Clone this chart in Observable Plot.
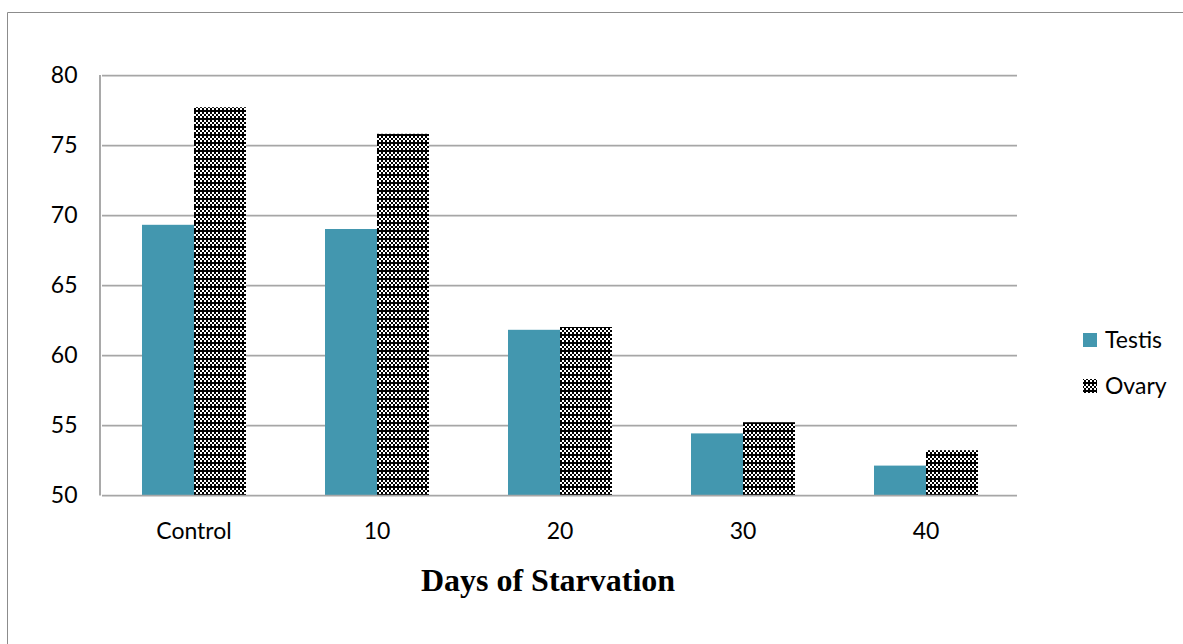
<!DOCTYPE html>
<html>
<head>
<meta charset="utf-8">
<script src="https://cdn.jsdelivr.net/npm/d3@7"></script>
<script src="https://cdn.jsdelivr.net/npm/@observablehq/plot@0.6"></script>
<style>
  html, body { margin: 0; padding: 0; background: #fff; }
  #chart { position: relative; width: 1183px; height: 644px; }
</style>
</head>
<body>
<div id="chart"></div>
<script>
// ---- data ----
const categories = ["Control", "10", "20", "30", "40"];
const series = ["Testis", "Ovary"];
const testis = [69.3, 69.0, 61.8, 54.4, 52.1];
const ovary = [77.7, 75.8, 62.0, 55.2, 53.2];
const yTicks = [50, 55, 60, 65, 70, 75, 80];
const xTitle = "Days of Starvation";

const values = {Testis: testis, Ovary: ovary};
const data = categories.flatMap((c, i) => series.map(s => ({category: c, series: s, value: values[s][i]})));

// ---- layout ----
const W = 1183, H = 644;
const mL = 100, mR = 164, mT = 75, mB = 149;
const gridColor = "#a6a6a6";
const teal = "#4397af";

const chart = Plot.plot({
  width: W, height: H,
  marginLeft: mL, marginRight: mR, marginTop: mT, marginBottom: mB,
  style: {fontFamily: "Lato, 'Open Sans', sans-serif", fontSize: "23px", background: "transparent", color: "#000", overflow: "visible"},
  fx: {domain: categories, paddingInner: 0, paddingOuter: 0, label: null, tickSize: 0, tickPadding: 27, axis: "bottom"},
  x: {domain: series, paddingInner: 0, paddingOuter: 0.75, axis: null},
  y: {domain: [yTicks[0], yTicks[yTicks.length - 1]], ticks: yTicks, tickSize: 0, tickPadding: 25, label: null},
  color: {domain: series, range: [teal, "url(#ovaryPattern)"]},
  marks: [
    Plot.ruleY(yTicks.slice(1), {stroke: gridColor, strokeWidth: 1.75}),
    Plot.barY(data, {fx: "category", x: "series", y1: yTicks[0], y2: "value", fill: "series"}),
    Plot.ruleY([yTicks[0]], {stroke: gridColor, strokeWidth: 1.75})
  ]
});

document.getElementById("chart").appendChild(chart);

const svg = d3.select(chart);

// pattern for Ovary
const defs = svg.insert("defs", ":first-child");
const pat = defs.append("pattern")
  .attr("id", "ovaryPattern")
  .attr("patternUnits", "userSpaceOnUse")
  .attr("width", 8).attr("height", 8);
pat.append("rect").attr("width", 8).attr("height", 8).attr("fill", "#fff");
const cells = [[0,0],[4,0],[2,2],[6,2],[0,4],[4,4]];
cells.forEach(([cx, cy]) => pat.append("rect").attr("x", cx).attr("y", cy).attr("width", 2).attr("height", 2).attr("fill", "#000"));
pat.append("rect").attr("x", 0).attr("y", 6).attr("width", 8).attr("height", 2).attr("fill", "#000");

// left axis line
svg.append("line")
  .attr("x1", mL).attr("x2", mL)
  .attr("y1", mT).attr("y2", H - mB + 0.5)
  .attr("stroke", "#8c8c8c").attr("stroke-width", 1.5);

// outer border (cropped)
svg.append("path")
  .attr("d", `M7.5,${H} V12.5 H${W}`)
  .attr("fill", "none").attr("stroke", "#8c8c8c").attr("stroke-width", 1);

// legend
const legendY = {Testis: 340, Ovary: 386};
series.forEach(s => {
  const cy = legendY[s];
  svg.append("rect")
    .attr("x", 1083).attr("y", cy - 7).attr("width", 14).attr("height", 14)
    .attr("fill", s === "Testis" ? teal : "url(#ovaryPattern)");
  svg.append("text")
    .attr("x", 1105).attr("y", cy + 8)
    .attr("text-anchor", "start")
    .attr("font-family", "Lato, 'Open Sans', sans-serif").attr("font-size", 23)
    .attr("fill", "#000")
    .text(s);
});

// axis title
svg.append("text")
  .attr("x", 548).attr("y", 591)
  .attr("text-anchor", "middle")
  .attr("font-family", "'Liberation Serif', 'Times New Roman', serif")
  .attr("font-weight", "bold").attr("font-size", 32)
  .attr("fill", "#000")
  .text(xTitle);
</script>
</body>
</html>
